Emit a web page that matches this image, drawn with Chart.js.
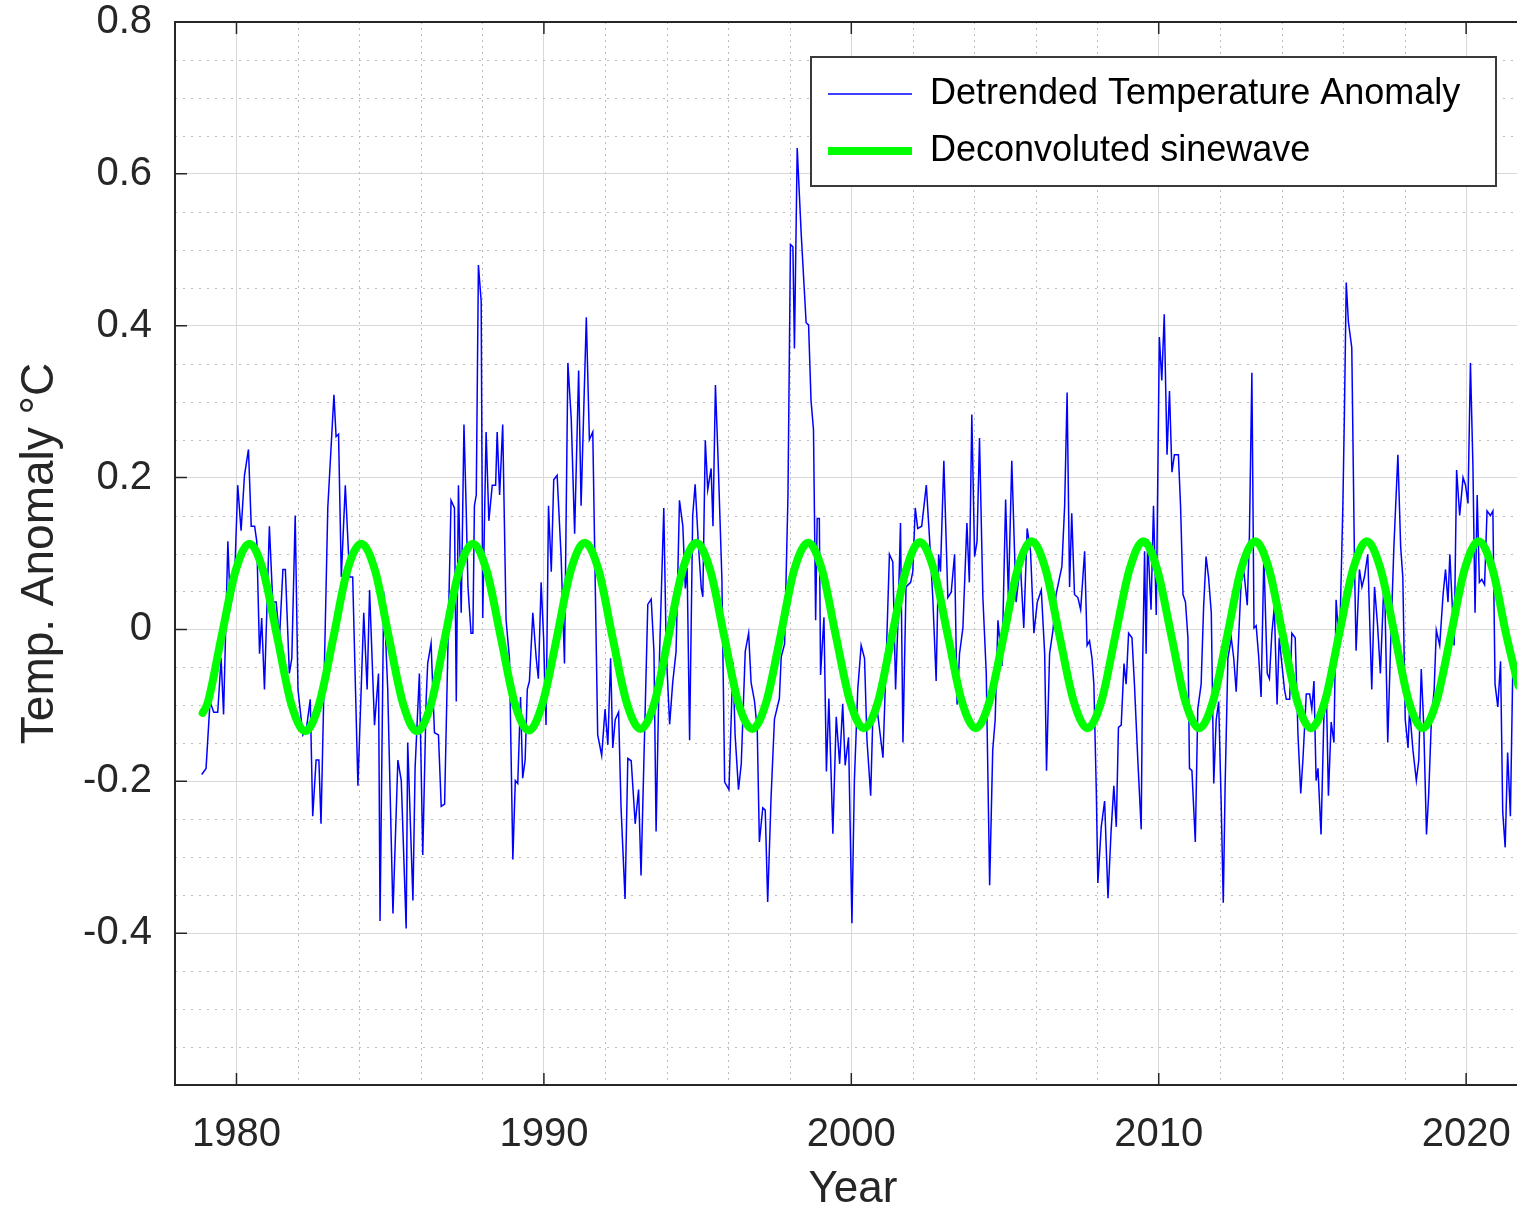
<!DOCTYPE html>
<html>
<head>
<meta charset="utf-8">
<script src="https://cdn.jsdelivr.net/npm/chart.js@4.4.1/dist/chart.umd.min.js"></script>
<style>
  html, body { margin: 0; padding: 0; background: #fff; overflow: hidden; }
  canvas { display: block; }
</style>
</head>
<body>
<!-- the axes box runs a little past the right edge of the 1517px picture -->
<canvas id="anomalyChart" width="1531" height="1212"></canvas>
<script>
// detrended monthly anomaly (year, degC)
var anomalyYears = [
  1978.87, 1979.01, 1979.14, 1979.26, 1979.39, 1979.50, 1979.58, 1979.72, 1979.80, 1979.93,
  1980.04, 1980.15, 1980.26, 1980.39, 1980.48, 1980.59, 1980.66, 1980.75, 1980.82, 1980.91,
  1981.07, 1981.18, 1981.29, 1981.40, 1981.51, 1981.59, 1981.72, 1981.80, 1981.91, 1982.00,
  1982.16, 1982.27, 1982.40, 1982.48, 1982.59, 1982.68, 1982.75, 1982.97, 1983.17, 1983.24,
  1983.32, 1983.41, 1983.54, 1983.68, 1983.78, 1983.95, 1984.14, 1984.25, 1984.33, 1984.49,
  1984.62, 1984.67, 1984.79, 1984.92, 1985.09, 1985.25, 1985.36, 1985.52, 1985.57, 1985.74,
  1985.81, 1985.95, 1986.06, 1986.17, 1986.22, 1986.33, 1986.44, 1986.57, 1986.66, 1986.77,
  1986.87, 1986.98, 1987.09, 1987.15, 1987.22, 1987.31, 1987.40, 1987.47, 1987.53, 1987.63,
  1987.69, 1987.74, 1987.80, 1987.87, 1987.96, 1988.01, 1988.12, 1988.21, 1988.32, 1988.43,
  1988.48, 1988.56, 1988.66, 1988.77, 1988.88, 1988.99, 1989.07, 1989.15, 1989.24, 1989.31,
  1989.39, 1989.46, 1989.53, 1989.64, 1989.75, 1989.82, 1989.91, 1989.99, 1990.07, 1990.15,
  1990.24, 1990.32, 1990.43, 1990.56, 1990.67, 1990.78, 1990.89, 1991.00, 1991.13, 1991.21,
  1991.38, 1991.48, 1991.59, 1991.75, 1991.88, 1991.99, 1992.08, 1992.17, 1992.24, 1992.32,
  1992.43, 1992.51, 1992.64, 1992.73, 1992.84, 1992.97, 1993.08, 1993.16, 1993.38, 1993.49,
  1993.58, 1993.65, 1993.76, 1993.90, 1993.98, 1994.09, 1994.19, 1994.30, 1994.41, 1994.52,
  1994.60, 1994.66, 1994.74, 1994.84, 1994.92, 1995.03, 1995.12, 1995.17, 1995.25, 1995.33,
  1995.44, 1995.50, 1995.58, 1995.66, 1995.79, 1995.88, 1996.02, 1996.15, 1996.22, 1996.33,
  1996.42, 1996.55, 1996.66, 1996.74, 1996.85, 1996.94, 1997.01, 1997.12, 1997.20, 1997.28,
  1997.39, 1997.50, 1997.66, 1997.72, 1997.83, 1997.94, 1998.02, 1998.10, 1998.15, 1998.24,
  1998.37, 1998.53, 1998.61, 1998.69, 1998.77, 1998.84, 1998.89, 1998.96, 1999.00, 1999.11,
  1999.19, 1999.27, 1999.40, 1999.51, 1999.62, 1999.72, 1999.80, 1999.91, 2000.02, 2000.10,
  2000.21, 2000.32, 2000.43, 2000.51, 2000.63, 2000.70, 2000.84, 2001.03, 2001.13, 2001.24,
  2001.35, 2001.44, 2001.51, 2001.60, 2001.68, 2001.78, 2001.93, 2002.00, 2002.08, 2002.16,
  2002.29, 2002.44, 2002.54, 2002.65, 2002.76, 2002.84, 2002.90, 2003.01, 2003.14, 2003.25,
  2003.36, 2003.44, 2003.52, 2003.63, 2003.76, 2003.84, 2003.92, 2004.01, 2004.09, 2004.17,
  2004.28, 2004.39, 2004.50, 2004.60, 2004.68, 2004.77, 2004.90, 2005.02, 2005.11, 2005.22,
  2005.36, 2005.50, 2005.61, 2005.72, 2005.83, 2005.94, 2006.05, 2006.18, 2006.29, 2006.35,
  2006.45, 2006.56, 2006.66, 2006.85, 2006.94, 2007.02, 2007.10, 2007.17, 2007.26, 2007.37,
  2007.46, 2007.59, 2007.67, 2007.75, 2007.83, 2007.89, 2007.97, 2008.02, 2008.13, 2008.24,
  2008.35, 2008.45, 2008.54, 2008.62, 2008.69, 2008.78, 2008.87, 2008.94, 2009.02, 2009.13,
  2009.21, 2009.32, 2009.43, 2009.48, 2009.54, 2009.59, 2009.64, 2009.75, 2009.83, 2009.92,
  2010.02, 2010.10, 2010.18, 2010.27, 2010.35, 2010.43, 2010.51, 2010.64, 2010.71, 2010.79,
  2010.87, 2010.95, 2011.00, 2011.08, 2011.19, 2011.27, 2011.38, 2011.46, 2011.54, 2011.62,
  2011.71, 2011.79, 2011.87, 2011.95, 2012.03, 2012.10, 2012.16, 2012.25, 2012.36, 2012.44,
  2012.52, 2012.60, 2012.68, 2012.77, 2012.88, 2012.95, 2013.03, 2013.10, 2013.17, 2013.25,
  2013.33, 2013.42, 2013.53, 2013.60, 2013.68, 2013.76, 2013.85, 2013.92, 2014.09, 2014.15,
  2014.26, 2014.33, 2014.44, 2014.53, 2014.62, 2014.69, 2014.80, 2014.91, 2014.98, 2015.05,
  2015.12, 2015.18, 2015.28, 2015.37, 2015.45, 2015.52, 2015.61, 2015.70, 2015.77, 2015.88,
  2015.99, 2016.04, 2016.10, 2016.17, 2016.28, 2016.37, 2016.42, 2016.53, 2016.61, 2016.69,
  2016.80, 2016.86, 2016.93, 2017.02, 2017.12, 2017.21, 2017.34, 2017.45, 2017.54, 2017.65,
  2017.78, 2017.87, 2017.94, 2018.02, 2018.11, 2018.16, 2018.27, 2018.38, 2018.46, 2018.54,
  2018.62, 2018.71, 2018.78, 2018.87, 2018.96, 2019.03, 2019.14, 2019.25, 2019.33, 2019.41,
  2019.47, 2019.61, 2019.69, 2019.79, 2019.90, 2019.98, 2020.06, 2020.14, 2020.22, 2020.29,
  2020.36, 2020.43, 2020.51, 2020.60, 2020.68, 2020.79, 2020.87, 2020.94, 2021.03, 2021.12,
  2021.19, 2021.27, 2021.35, 2021.44, 2021.52, 2021.60
];
var anomalyValues = [
  -0.191, -0.183, -0.095, -0.109, -0.109, -0.038, -0.112, 0.116, 0.029, 0.056,
  0.190, 0.130, 0.203, 0.237, 0.136, 0.136, 0.116, -0.032, 0.015, -0.079,
  0.136, 0.036, 0.036, -0.011, 0.079, 0.079, -0.058, -0.038, 0.150, -0.079,
  -0.139, -0.132, -0.092, -0.246, -0.172, -0.172, -0.256, 0.160, 0.309, 0.254,
  0.257, 0.069, 0.190, 0.069, 0.069, -0.206, 0.022, -0.079, 0.052, -0.126,
  -0.058, -0.384, 0.049, -0.079, -0.374, -0.172, -0.199, -0.394, -0.149, -0.357,
  -0.183, -0.058, -0.297, -0.092, -0.045, -0.018, -0.136, -0.139, -0.233, -0.230,
  -0.038, 0.170, 0.160, -0.095, 0.190, 0.022, 0.270, 0.163, 0.056, -0.005,
  -0.005, 0.163, 0.177, 0.480, 0.432, 0.015, 0.260, 0.143, 0.190, 0.190,
  0.260, 0.177, 0.270, 0.012, -0.038, -0.303, -0.199, -0.203, -0.089, -0.196,
  -0.172, -0.079, -0.068, 0.022, -0.038, -0.065, 0.062, -0.011, -0.126, 0.163,
  0.076, 0.197, 0.203, 0.096, -0.045, 0.351, 0.277, 0.126, 0.341, 0.163,
  0.411, 0.250, 0.260, -0.139, -0.166, -0.105, -0.152, -0.038, -0.156, -0.119,
  -0.109, -0.235, -0.355, -0.170, -0.173, -0.256, -0.211, -0.324, 0.033, 0.040,
  -0.029, -0.266, -0.036, 0.160, -0.029, -0.125, -0.070, -0.029, 0.170, 0.136,
  0.054, 0.081, -0.146, 0.150, 0.191, 0.109, 0.054, 0.043, 0.249, 0.184,
  0.212, 0.136, 0.322, 0.232, 0.067, -0.201, -0.211, -0.043, -0.139, -0.211,
  -0.177, -0.029, -0.005, -0.070, -0.094, -0.132, -0.280, -0.235, -0.238, -0.359,
  -0.221, -0.118, -0.091, -0.036, -0.019, 0.177, 0.507, 0.504, 0.370, 0.634,
  0.521, 0.404, 0.401, 0.301, 0.263, 0.012, 0.146, 0.146, -0.060, 0.016,
  -0.187, -0.091, -0.269, -0.115, -0.177, -0.098, -0.179, -0.142, -0.387, -0.199,
  -0.079, -0.021, -0.038, -0.146, -0.219, -0.115, -0.105, -0.169, -0.045, 0.099,
  0.089, -0.079, 0.002, 0.140, -0.149, 0.056, 0.062, 0.076, 0.160, 0.133,
  0.136, 0.190, 0.123, 0.042, -0.068, 0.099, 0.076, 0.222, 0.042, 0.049,
  0.099, -0.099, -0.032, 0.002, 0.140, 0.062, 0.283, 0.096, 0.116, 0.252,
  0.042, -0.058, -0.337, -0.159, -0.119, 0.012, -0.048, 0.171, 0.042, 0.222,
  0.036, 0.086, 0.002, 0.133, 0.103, -0.005, 0.036, 0.052, -0.032, -0.186,
  -0.032, -0.001, 0.046, 0.083, 0.163, 0.312, 0.056, 0.153, 0.046, 0.042,
  0.026, 0.103, -0.021, -0.015, -0.038, -0.072, -0.213, -0.334, -0.260, -0.226,
  -0.354, -0.266, -0.206, -0.260, -0.129, -0.126, -0.045, -0.072, -0.005, -0.011,
  -0.072, -0.172, -0.263, -0.038, 0.103, -0.032, 0.119, 0.026, 0.163, 0.019,
  0.385, 0.328, 0.415, 0.230, 0.314, 0.207, 0.230, 0.230, 0.163, 0.046,
  0.036, -0.011, -0.183, -0.186, -0.280, -0.105, -0.072, 0.029, 0.096, 0.069,
  0.022, -0.203, -0.119, -0.095, -0.226, -0.360, -0.206, -0.038, -0.011, -0.038,
  -0.082, -0.011, 0.062, 0.076, 0.032, 0.123, 0.338, 0.002, 0.005, -0.035,
  -0.089, 0.096, -0.058, -0.065, -0.005, 0.029, -0.099, -0.011, -0.079, -0.092,
  -0.092, -0.005, -0.011, -0.139, -0.216, -0.172, -0.085, -0.085, -0.105, -0.068,
  -0.199, -0.183, -0.270, -0.119, -0.075, -0.219, -0.122, -0.149, 0.039, -0.025,
  0.163, 0.284, 0.457, 0.405, 0.371, 0.083, -0.028, 0.079, 0.056, 0.069,
  0.099, 0.015, -0.079, 0.056, 0.005, -0.058, 0.076, -0.149, -0.025, 0.109,
  0.230, 0.109, 0.069, -0.119, -0.156, -0.105, -0.159, -0.199, -0.172, -0.052,
  -0.126, -0.270, -0.219, -0.119, -0.079, -0.001, -0.021, 0.046, 0.079, 0.036,
  0.099, -0.021, 0.210, 0.150, 0.200, 0.190, 0.166, 0.351, 0.217, 0.022,
  0.177, 0.062, 0.066, 0.059, 0.156, 0.150, 0.156, -0.072, -0.102, -0.042,
  -0.240, -0.287, -0.162, -0.246, -0.045, -0.040
];

// fitted sinewave, sampled at peaks, troughs and the points between
var sineYears = [
  1978.90, 1979.06, 1979.51, 1979.97,
  1980.42, 1980.87, 1981.33, 1981.78, 1982.24, 1982.69, 1983.15, 1983.60,
  1984.06, 1984.51, 1984.96, 1985.42, 1985.87, 1986.33, 1986.78, 1987.24,
  1987.69, 1988.14, 1988.60, 1989.05, 1989.51, 1989.96, 1990.42, 1990.87,
  1991.33, 1991.78, 1992.23, 1992.69, 1993.14, 1993.60, 1994.05, 1994.51,
  1994.96, 1995.41, 1995.87, 1996.32, 1996.78, 1997.23, 1997.69, 1998.14,
  1998.60, 1999.05, 1999.50, 1999.96, 2000.41, 2000.87, 2001.32, 2001.78,
  2002.23, 2002.68, 2003.14, 2003.59, 2004.05, 2004.50, 2004.96, 2005.41,
  2005.87, 2006.32, 2006.77, 2007.23, 2007.68, 2008.14, 2008.59, 2009.05,
  2009.50, 2009.95, 2010.41, 2010.86, 2011.32, 2011.77, 2012.23, 2012.68,
  2013.14, 2013.59, 2014.04, 2014.50, 2014.95, 2015.41, 2015.86, 2016.32,
  2016.77, 2017.22, 2017.68, 2018.13, 2018.59, 2019.04, 2019.50, 2019.95,
  2020.41, 2020.86, 2021.31, 2021.70
];
var sineValues = [
  -0.110, -0.097, -0.010, 0.077,
  0.113, 0.077, -0.011, -0.098, -0.134, -0.098, -0.011, 0.077,
  0.113, 0.077, -0.011, -0.098, -0.134, -0.098, -0.011, 0.077,
  0.113, 0.077, -0.011, -0.097, -0.133, -0.097, -0.011, 0.077,
  0.114, 0.078, -0.010, -0.096, -0.131, -0.096, -0.010, 0.078,
  0.114, 0.078, -0.010, -0.096, -0.131, -0.096, -0.010, 0.078,
  0.114, 0.078, -0.009, -0.095, -0.130, -0.095, -0.009, 0.078,
  0.115, 0.079, -0.008, -0.094, -0.130, -0.094, -0.008, 0.079,
  0.116, 0.079, -0.008, -0.094, -0.130, -0.094, -0.008, 0.079,
  0.116, 0.079, -0.008, -0.094, -0.130, -0.094, -0.008, 0.079,
  0.116, 0.079, -0.008, -0.094, -0.130, -0.094, -0.008, 0.079,
  0.116, 0.079, -0.008, -0.094, -0.130, -0.094, -0.008, 0.079,
  0.116, 0.079, -0.008, -0.074
];

var xTicks = [1980, 1990, 2000, 2010, 2020];
var xTickLabels = ["1980", "1990", "2000", "2010", "2020"];
var yTicks = [-0.4, -0.2, 0, 0.2, 0.4, 0.6, 0.8];
var yTickLabels = ["-0.4", "-0.2", "0", "0.2", "0.4", "0.6", "0.8"];

var seriesNames = ["Detrended Temperature Anomaly", "Deconvoluted sinewave"];
var seriesColors = ["#0000ff", "#00ff00"];

var axisColor = "#262626";
var fontFamily = "'Liberation Sans', Arial, sans-serif";

function toPoints(xs, ys) {
  return xs.map(function (x, i) {
    return { x: x, y: ys[i] };
  });
}

// dotted minor grid, axes box with inward ticks, legend
var octaveFrame = {
  id: "octaveFrame",
  beforeDatasetsDraw: function (chart) {
    var ctx = chart.ctx;
    var a = chart.chartArea;
    var xs = chart.scales.x;
    var ys = chart.scales.y;
    ctx.save();
    ctx.strokeStyle = "#bcbcbc";
    ctx.lineWidth = 1;

    ctx.setLineDash([2, 4]);
    for (var yr = 1982; yr < xs.max; yr += 2) {
      if (yr % 10 === 0) continue;
      var px = Math.round(xs.getPixelForValue(yr)) + 0.5;
      ctx.beginPath();
      ctx.moveTo(px, a.top);
      ctx.lineTo(px, a.bottom);
      ctx.stroke();
    }

    ctx.setLineDash([2, 6]);
    for (var k = -11; k < 16; k++) {
      if (k % 4 === 0) continue;
      var py = Math.round(ys.getPixelForValue(k * 0.05)) + 0.5;
      ctx.beginPath();
      ctx.moveTo(a.left, py);
      ctx.lineTo(a.right, py);
      ctx.stroke();
    }
    ctx.restore();
  },
  afterDatasetsDraw: function (chart) {
    var ctx = chart.ctx;
    var a = chart.chartArea;
    var xs = chart.scales.x;
    var ys = chart.scales.y;
    ctx.save();
    ctx.strokeStyle = axisColor;
    ctx.lineWidth = 2;
    ctx.strokeRect(a.left, a.top, a.right - a.left, a.bottom - a.top);

    var tick = 12;
    ctx.beginPath();
    xTicks.forEach(function (v) {
      var px = xs.getPixelForValue(v);
      ctx.moveTo(px, a.bottom);
      ctx.lineTo(px, a.bottom - tick);
      ctx.moveTo(px, a.top);
      ctx.lineTo(px, a.top + tick);
    });
    yTicks.forEach(function (v) {
      var py = ys.getPixelForValue(v);
      ctx.moveTo(a.left, py);
      ctx.lineTo(a.left + tick, py);
      ctx.moveTo(a.right, py);
      ctx.lineTo(a.right - tick, py);
    });
    ctx.lineWidth = 1.5;
    ctx.stroke();
    ctx.restore();
  },
  afterDraw: function (chart) {
    var ctx = chart.ctx;
    var a = chart.chartArea;
    var boxW = 685;
    var boxH = 129;
    var left = a.right - 35 - boxW;
    var top = a.top + 35;
    ctx.save();
    ctx.fillStyle = "#ffffff";
    ctx.fillRect(left, top, boxW, boxH);
    ctx.strokeStyle = "#3a3a3a";
    ctx.lineWidth = 2;
    ctx.strokeRect(left, top, boxW, boxH);

    var rows = [top + 37, top + 94];
    var widths = [1.5, 8];
    ctx.font = "36px " + fontFamily;
    ctx.textBaseline = "middle";
    ctx.textAlign = "left";
    rows.forEach(function (ry, i) {
      ctx.beginPath();
      ctx.strokeStyle = seriesColors[i];
      ctx.lineWidth = widths[i];
      ctx.moveTo(left + 17, ry);
      ctx.lineTo(left + 101, ry);
      ctx.stroke();
      ctx.fillStyle = "#000000";
      ctx.fillText(seriesNames[i], left + 119, ry);
    });
    ctx.restore();
  },
};

var chartDiv = document.getElementById("anomalyChart");

new Chart(chartDiv, {
  type: "line",
  data: {
    datasets: [
      {
        label: seriesNames[0],
        data: toPoints(anomalyYears, anomalyValues),
        borderColor: seriesColors[0],
        borderWidth: 1.5,
        pointRadius: 0,
        tension: 0,
        order: 1,
      },
      {
        label: seriesNames[1],
        data: toPoints(sineYears, sineValues),
        borderColor: seriesColors[1],
        borderWidth: 8,
        borderCapStyle: "round",
        borderJoinStyle: "round",
        pointRadius: 0,
        cubicInterpolationMode: "monotone",
        order: 0,
      },
    ],
  },
  options: {
    responsive: false,
    animation: false,
    devicePixelRatio: 1,
    layout: {
      padding: { left: 0, top: 22, right: 0, bottom: 0 },
    },
    plugins: {
      legend: { display: false },
      tooltip: { enabled: false },
    },
    scales: {
      x: {
        type: "linear",
        min: 1978,
        max: 2022.11,
        afterBuildTicks: function (scale) {
          scale.ticks = xTicks.map(function (v) {
            return { value: v };
          });
        },
        afterFit: function (scale) {
          scale.height = 127;
          scale.paddingLeft = 0;
          scale.paddingRight = 0;
        },
        grid: { color: "#d9d9d9", lineWidth: 1, drawTicks: false },
        border: { display: false },
        ticks: {
          padding: 26,
          color: axisColor,
          font: { family: fontFamily, size: 40 },
          maxRotation: 0,
          autoSkip: false,
          callback: function (value, index) {
            return xTickLabels[index];
          },
        },
        title: {
          display: true,
          text: "Year",
          color: axisColor,
          font: { family: fontFamily, size: 44, lineHeight: 1 },
          padding: { top: 0, bottom: 0 },
        },
      },
      y: {
        type: "linear",
        min: -0.6,
        max: 0.8,
        afterBuildTicks: function (scale) {
          scale.ticks = yTicks.map(function (v) {
            return { value: v };
          });
        },
        afterFit: function (scale) {
          scale.width = 175;
          scale.paddingTop = 0;
          scale.paddingBottom = 0;
        },
        grid: { color: "#d9d9d9", lineWidth: 1, drawTicks: false },
        border: { display: false },
        ticks: {
          padding: 23,
          color: axisColor,
          font: { family: fontFamily, size: 40, lineHeight: 1 },
          callback: function (value, index) {
            return yTickLabels[index];
          },
        },
        title: {
          display: true,
          text: "Temp. Anomaly °C",
          color: axisColor,
          font: { family: fontFamily, size: 46, lineHeight: 1 },
          padding: { top: 17, bottom: 0 },
        },
      },
    },
  },
  plugins: [octaveFrame],
});
</script>
</body>
</html>
